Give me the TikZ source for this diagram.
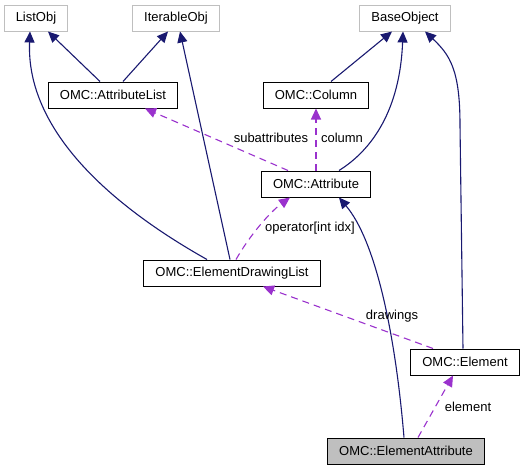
\documentclass[tikz,border=0pt]{standalone}
\usepackage{fontspec}
\setmainfont{Liberation Sans}
\usetikzlibrary{arrows.meta}

\definecolor{inhblue}{HTML}{191970}
\definecolor{usepurple}{HTML}{9A32CD}
\definecolor{extgrey}{HTML}{BFBFBF}

\tikzset{
  cls/.style={draw=black, line width=1pt, rectangle, minimum height=26pt, inner xsep=11.5pt, font=\fontsize{13}{15}\selectfont},
  extcls/.style={cls, draw=extgrey},
  curcls/.style={cls, fill=extgrey},
  inherit/.style={draw=inhblue, line width=1.1pt, -{Triangle[length=11pt,width=10pt]}},
  uses/.style={draw=usepurple, line width=1.1pt, dash pattern=on 7pt off 5pt, -{Triangle[length=11pt,width=10pt]}},
  lbl/.style={font=\fontsize{13}{15}\selectfont, inner sep=0pt}
}

\begin{document}
\begin{tikzpicture}[x=1pt, y=-1pt]
    \useasboundingbox (0,0) rectangle (525,471);

    % the base classes
    \node[extcls] (listobj) at (36,18) {ListObj};
    \node[extcls] (iterobj) at (176,18) {IterableObj};
    \node[extcls] (baseobj) at (405,18) {BaseObject};

    % the OMC classes
    \node[cls] (attrlist) at (113,95) {OMC::AttributeList};
    \node[cls] (column) at (316,95) {OMC::Column};
    \node[cls] (attribute) at (316,184) {OMC::Attribute};
    \node[cls] (drawlist) at (232,273) {OMC::ElementDrawingList};
    \node[cls] (element) at (465,362) {OMC::Element};
    \node[curcls] (elemattr) at (406,451) {OMC::ElementAttribute};

    % inheritance
    \draw[inherit] ([xshift=-13pt]attrlist.north) -- ([xshift=12pt]listobj.south);
    \draw[inherit] ([xshift=10pt]attrlist.north) -- ([xshift=-8pt]iterobj.south);
    \draw[inherit] ([xshift=-25pt]drawlist.north) .. controls (110,205) and (26,130) .. ([xshift=-6pt]listobj.south);
    \draw[inherit] ([xshift=-2pt]drawlist.north) -- ([xshift=4pt]iterobj.south);
    \draw[inherit] ([xshift=15pt]column.north) -- ([xshift=-13pt]baseobj.south);
    \draw[inherit] ([xshift=23pt]attribute.north) .. controls (372,150) and (400,110) .. ([xshift=-2pt]baseobj.south);
    \draw[inherit] ([xshift=-2pt]element.north) -- (460,125) .. controls (460,70) and (450,55) .. ([xshift=20pt]baseobj.south);
    \draw[inherit] ([xshift=-2pt]elemattr.north) .. controls (395,330) and (375,240) .. ([xshift=23pt]attribute.south);

    % usage relations
    \draw[uses] ([xshift=-28pt]attribute.north) -- ([xshift=32pt]attrlist.south);
    \node[lbl] (lblsub) at (271,138) {subattributes};
    \draw[uses] (attribute.north) -- (column.south);
    \node[lbl] (lblcol) at (342,138) {column};
    \draw[uses] ([xshift=4pt]drawlist.north) .. controls (250,235) and (270,212) .. ([xshift=-26pt]attribute.south);
    \node[lbl] (lblop) at (310,228) {operator[int idx]};
    \draw[uses] ([xshift=-32pt]element.north) -- ([xshift=31pt]drawlist.south);
    \node[lbl] (lbldraw) at (392,316) {drawings};
    \draw[uses] ([xshift=12pt]elemattr.north) -- ([xshift=-12pt]element.south);
    \node[lbl] (lblelem) at (468,407) {element};
\end{tikzpicture}
\end{document}
